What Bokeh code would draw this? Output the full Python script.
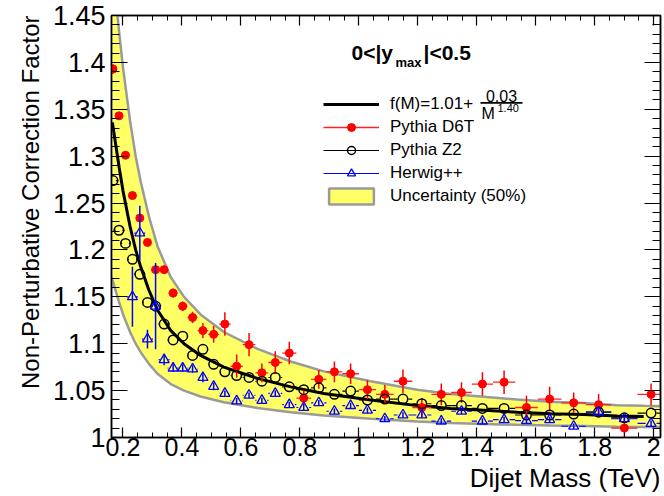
import math
import numpy as np
from bokeh.plotting import figure
from bokeh.models import (Range1d, FixedTicker, CustomJSTickFormatter, LinearAxis,
                          Legend, LegendItem, Label, BoxAnnotation, Title)
from bokeh.embed import file_html
from bokeh.resources import INLINE

# ---------------- data ----------------
mass_edges = [0.156, 0.176, 0.197, 0.220, 0.244, 0.270, 0.296, 0.325, 0.354, 0.386,
              0.419, 0.453, 0.489, 0.526, 0.565, 0.606, 0.649, 0.693, 0.740, 0.788,
              0.838, 0.890, 0.944, 1.000, 1.058, 1.118, 1.181, 1.246, 1.313, 1.383,
              1.455, 1.530, 1.607, 1.687, 1.770, 1.856, 1.945, 2.037]

d6t_y = [1.393, 1.343, 1.301, 1.258, 1.234, 1.208, 1.179, 1.179, 1.154, 1.140,
         1.128, 1.114, 1.110, 1.121, 1.076, 1.099, 1.069, 1.080, 1.090, 1.042,
         1.062, 1.070, 1.068, 1.051, 1.046, 1.060, 1.032, 1.046, 1.048, 1.057,
         1.059, 1.032, 1.041, 1.037, 1.035, 1.010, 1.046]
d6t_err = [0.005, 0.004, 0.004, 0.004, 0.004, 0.004, 0.003, 0.004, 0.005, 0.005,
           0.006, 0.008, 0.009, 0.0125, 0.0124, 0.0124, 0.010, 0.012, 0.012, 0.008,
           0.010, 0.011, 0.011, 0.010, 0.010, 0.0125, 0.010, 0.0115, 0.011, 0.0125,
           0.0125, 0.0125, 0.013, 0.011, 0.0115, 0.0125, 0.0115]

z2_y = [1.274, 1.221, 1.207, 1.190, 1.174, 1.144, 1.140, 1.121, 1.104, 1.108,
        1.0875, 1.094, 1.078, 1.070, 1.066, 1.064, 1.060, 1.064, 1.054, 1.051,
        1.053, 1.046, 1.0495, 1.040, 1.041, 1.041, 1.036, 1.034, 1.034, 1.031,
        1.031, 1.024, 1.024, 1.025, 1.027, 1.021, 1.026]
z2_err = [0.003] * 37

herwig_first_bin = 3
herwig_y = [1.150, 1.218, 1.105, 1.140, 1.083, 1.074, 1.074, 1.073, 1.064, 1.0545,
            1.047, 1.039, 1.045, 1.0395, 1.047, 1.035, 1.032, 1.037, 1.028, 1.034,
            1.029, 1.020, 1.024, 1.024, 1.0175, 1.028, 1.0175, 1.019, 1.018, 1.019,
            1.012, 1.027, 1.020, 1.015]
herwig_err = [0.032, 0.029, 0.010, 0.046, 0.006, 0.004, 0.004, 0.004, 0.005, 0.004,
              0.003, 0.003, 0.003, 0.003, 0.003, 0.003, 0.003, 0.003, 0.003, 0.003,
              0.003, 0.003, 0.003, 0.003, 0.003, 0.003, 0.003, 0.003, 0.003, 0.003,
              0.003, 0.003, 0.003, 0.003]

fit_m = [0.160, 0.164, 0.187, 0.200, 0.224, 0.243, 0.260, 0.288, 0.317, 0.362,
         0.407, 0.463, 0.542, 0.656, 0.769, 0.881, 1.040, 1.198, 1.311, 1.424,
         1.537, 1.650, 1.763, 1.876, 1.966, 2.030]
fit_f = [1.345, 1.336, 1.288, 1.263, 1.225, 1.200, 1.182, 1.157, 1.136, 1.114,
         1.100, 1.0875, 1.075, 1.063, 1.054, 1.047, 1.040, 1.034, 1.031, 1.029,
         1.027, 1.0254, 1.0246, 1.0230, 1.0225, 1.0222]
band_fraction = 0.5

x_ticks = [0.2, 0.4, 0.6, 0.8, 1.0, 1.2, 1.4, 1.6, 1.8, 2.0]
y_ticks = [1.0, 1.05, 1.1, 1.15, 1.2, 1.25, 1.3, 1.35, 1.4, 1.45]

# ---------------- figure ----------------
FONT = "Liberation Sans"
W, H = 664, 496
FL, FR, FT, FB = 111, 4, 15, 59
X0, X1 = 0.161, 2.023
FW = W - FL - FR
TEV_PER_PX = (X1 - X0) / FW

p = figure(width=W, height=H, x_range=Range1d(X0, X1), y_range=Range1d(1.0, 1.45),
           output_backend="svg", toolbar_location=None,
           min_border_left=FL, min_border_right=FR, min_border_top=FT, min_border_bottom=FB)
p.xgrid.visible = False
p.ygrid.visible = False
p.outline_line_color = "black"
p.outline_line_width = 1.5
p.background_fill_color = "white"
p.border_fill_color = "white"

fmt = CustomJSTickFormatter(code="return parseFloat(tick.toFixed(2)).toString();")
blank = CustomJSTickFormatter(code="return '';")
x_minor = [round(0.15 + 0.05 * i, 3) for i in range(39)]
y_minor = [round(1.0 + 0.01 * i, 3) for i in range(46)]
xt = FixedTicker(ticks=x_ticks, minor_ticks=x_minor)
yt = FixedTicker(ticks=y_ticks, minor_ticks=y_minor)


def style_axis(ax, tin, tmin, size="26px", standoff=0):
    ax.major_tick_in = tin
    ax.major_tick_out = 0
    ax.minor_tick_in = tmin
    ax.minor_tick_out = 0
    ax.major_tick_line_width = 1.2
    ax.minor_tick_line_width = 1.0
    ax.major_tick_line_color = "black"
    ax.minor_tick_line_color = "black"
    ax.axis_line_color = "black"
    ax.axis_line_width = 1.5
    ax.major_label_text_font = FONT
    ax.major_label_text_color = "black"
    ax.major_label_standoff = standoff
    ax.major_label_text_font_size = size


xa = p.xaxis[0]
ya = p.yaxis[0]
xa.ticker = xt
xa.formatter = fmt
style_axis(xa, 10, 5, "25px", 0)
ya.ticker = yt
ya.formatter = fmt
style_axis(ya, 16, 8, "27px", 6)

top_ax = LinearAxis(ticker=xt, formatter=blank)
style_axis(top_ax, 10, 5, "1px", 0)
p.add_layout(top_ax, "above")
right_ax = LinearAxis(ticker=yt, formatter=blank)
style_axis(right_ax, 16, 8, "1px", 0)
p.add_layout(right_ax, "right")

# axis titles, right / top aligned as in the reference
p.add_layout(Title(text="Dijet Mass (TeV)", align="right", text_font=FONT,
                   text_font_size="26px", text_font_style="normal", text_color="black",
                   standoff=4, offset=0), "below")
p.add_layout(Title(text="Non-Perturbative Correction Factor", align="right", text_font=FONT,
                   text_font_size="24px", text_font_style="normal", text_color="black",
                   standoff=12, offset=0), "left")

# ---------------- band and fit ----------------
fm = np.array(fit_m)
ff = np.array(fit_f)
up = 1 + (1 + band_fraction) * (ff - 1)
dn = 1 + (1 - band_fraction) * (ff - 1)
band = p.patch(np.concatenate([fm, fm[::-1]]), np.concatenate([up, dn[::-1]]),
               fill_color="#ffff66", line_color="#9a9a9a", line_width=2.5)
fit_line = p.line(fm[1:-1], ff[1:-1], line_color="black", line_width=3)

edges = np.array(mass_edges)
lo, hi = edges[:-1], edges[1:]
mid = (lo + hi) / 2

# D6T
dy = np.array(d6t_y); de = np.array(d6t_err)
d6t_h = p.segment(lo, dy, hi, dy, line_color="#ff2020", line_width=1.3)
p.segment(mid, dy - de, mid, dy + de, line_color="#ff0000", line_width=1.5)
d6t_m = p.scatter(mid, dy, marker="circle", size=8, fill_color="#ff0000", line_color="#ff0000")

# Z2 (error bars are not drawn inside the open marker)
gap = 5.5 * TEV_PER_PX
zy = np.array(z2_y); ze = np.array(z2_err)
z2_h = p.segment(lo, zy, mid - gap, zy, line_color="black", line_width=1.2)
p.segment(mid + gap, zy, hi, zy, line_color="black", line_width=1.2)
z2_m = p.scatter(mid, zy, marker="circle", size=9.5, fill_alpha=0, line_color="black",
                 line_width=1.5)

# Herwig
hs = slice(herwig_first_bin, herwig_first_bin + len(herwig_y))
hy = np.array(herwig_y); he = np.array(herwig_err)
hlo, hhi, hmid = lo[hs], hi[hs], mid[hs]
hw_h = p.segment(hlo, hy, hmid - gap, hy, line_color="#0000ff", line_width=1.2)
p.segment(hmid + gap, hy, hhi, hy, line_color="#0000ff", line_width=1.2)
p.segment(hmid, hy - he, hmid, hy + he, line_color="#0000ff", line_width=1.5)
hw_m = p.scatter(hmid, hy, marker="triangle", size=10, fill_alpha=0, line_color="#0000ff",
                 line_width=1.3)

# ---------------- legend ----------------
leg = Legend(items=[
    LegendItem(label="f(M)=1.01+", renderers=[fit_line]),
    LegendItem(label="Pythia D6T", renderers=[d6t_h, d6t_m]),
    LegendItem(label="Pythia Z2", renderers=[z2_h, z2_m]),
    LegendItem(label="Herwig++", renderers=[hw_h, hw_m]),
    LegendItem(label="Uncertainty (50%)", renderers=[band]),
], location=(323 - FL, H - FB - 94 - 112))
leg.glyph_width = 56
leg.glyph_height = 20
leg.label_height = 20
leg.label_standoff = 11
leg.spacing = 3
leg.padding = 0
leg.margin = 0
leg.border_line_color = None
leg.background_fill_alpha = 0
leg.label_text_font = FONT
leg.label_text_font_size = "17px"
leg.label_text_color = "black"
p.add_layout(leg, "center")


def sx(px):
    return px - FL


def sy(py):
    return (H - FB) - py


def lab(text, px, py, size, bold=False, align="left", baseline="middle"):
    p.add_layout(Label(x=sx(px), y=sy(py), x_units="screen", y_units="screen", text=text,
                       text_font=FONT, text_font_size=size,
                       text_font_style="bold" if bold else "normal",
                       text_align=align, text_baseline=baseline, text_color="black"))


# fraction part of the fit label
lab("0.03", 501, 95, "16px", align="center")
p.add_layout(BoxAnnotation(left=sx(480), right=sx(522), top=sy(101.6), bottom=sy(103.2),
                           left_units="screen", right_units="screen", top_units="screen",
                           bottom_units="screen", fill_color="black", fill_alpha=1,
                           line_alpha=0))
lab("M", 481, 113, "16px")
lab("1.40", 497, 107, "11px")

# rapidity bin title
lab("0<|y", 351, 52, "21px", bold=True)
lab("max", 395, 61.5, "13px", bold=True)
lab("|<0.5", 423, 52, "21px", bold=True)

open("out.html", "w").write(file_html(p, INLINE))
